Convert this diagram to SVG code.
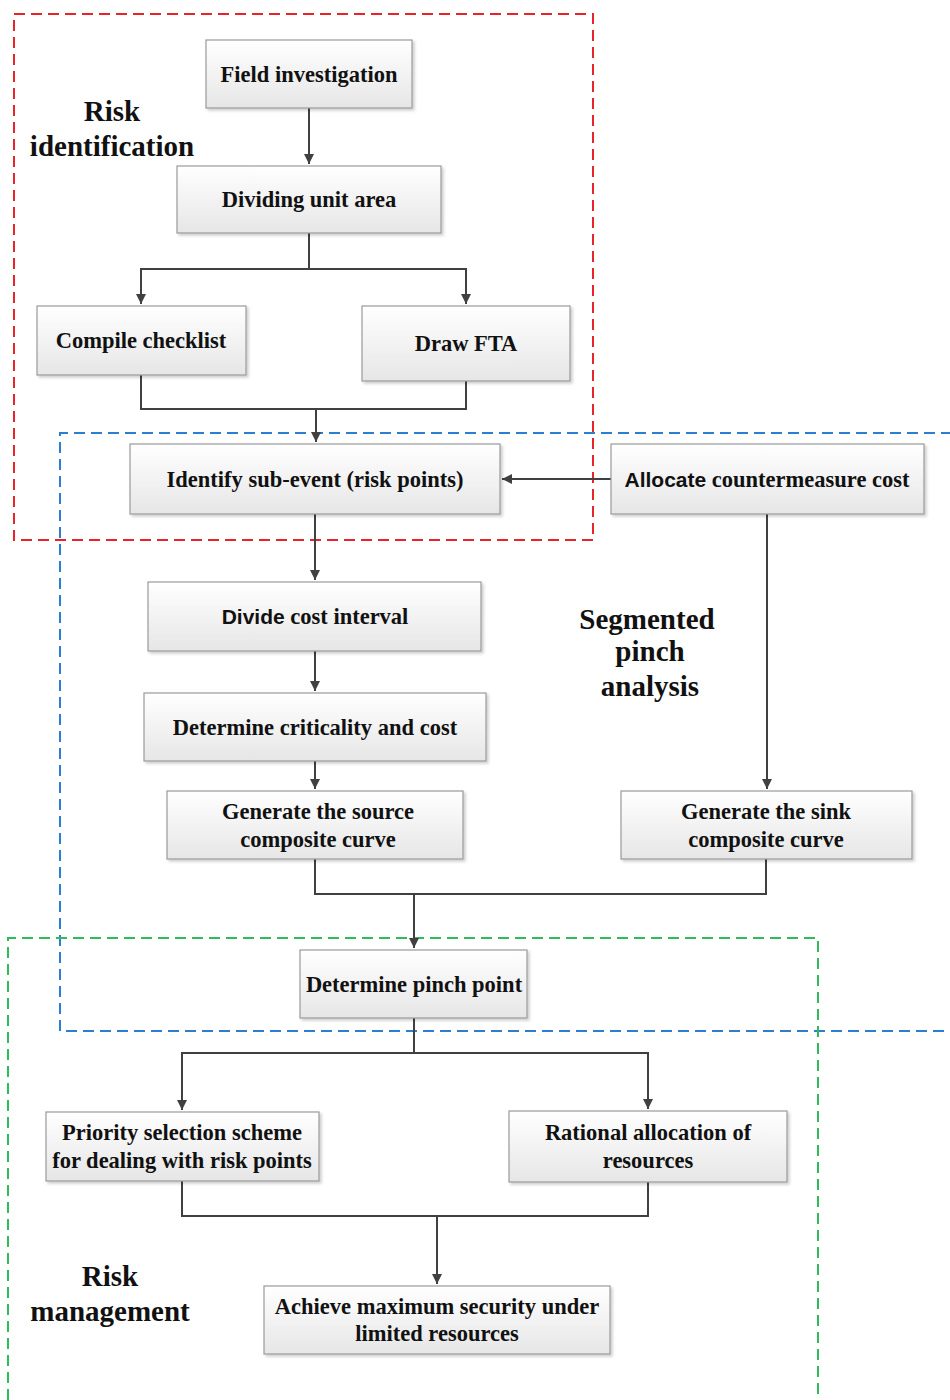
<svg xmlns="http://www.w3.org/2000/svg" width="950" height="1400" viewBox="0 0 950 1400">
<defs>
<linearGradient id="g" x1="0" y1="0" x2="0" y2="1">
<stop offset="0" stop-color="#ffffff"/>
<stop offset="1" stop-color="#e6e6e6"/>
</linearGradient>
<filter id="sh" x="-5%" y="-5%" width="115%" height="125%">
<feDropShadow dx="2" dy="2" stdDeviation="1.5" flood-color="#000" flood-opacity="0.2"/>
</filter>
<marker id="ar" viewBox="0 0 10 10" refX="10" refY="5" markerWidth="10" markerHeight="10" markerUnits="userSpaceOnUse" orient="auto">
<path d="M0,0 L10,5 L0,10 z" fill="#404040"/>
</marker>
</defs>
<style>
.box{fill:url(#g);stroke:#9a9a9a;stroke-width:1.2;filter:url(#sh)}
.t{font-family:"Liberation Serif","Times New Roman",serif;font-weight:bold;font-size:22.5px;fill:#111;text-anchor:middle}
.s{font-family:"Liberation Sans",Arial,sans-serif;font-size:21px}
.lab{font-family:"Liberation Serif","Times New Roman",serif;font-weight:bold;font-size:29px;fill:#111;text-anchor:middle}
.c{fill:none;stroke:#404040;stroke-width:2}
.a{marker-end:url(#ar)}
.reg{fill:none;stroke-width:2;stroke-dasharray:11 6}
</style>
<rect width="950" height="1400" fill="#fff"/>
<g id="regions">
<rect class="reg" x="14" y="14" width="579" height="526" stroke="#e8242a"/>
<path class="reg" d="M952,433 H60 V1031 H952" stroke="#2a7fd0"/>
<path class="reg" d="M8,1400 V938 H818 V1400" stroke="#2ebd5a"/>
</g>
<g id="labels">
<text class="lab" x="112" y="121">Risk</text>
<text class="lab" x="112" y="156">identification</text>
<text class="lab" x="647" y="629">Segmented</text>
<text class="lab" x="650" y="661">pinch</text>
<text class="lab" x="650" y="696">analysis</text>
<text class="lab" x="110" y="1286">Risk</text>
<text class="lab" x="110" y="1321">management</text>
</g>
<g id="connectors">
<path class="c a" d="M309,108 V164"/>
<path class="c" d="M309,233 V269 M141,269 H466"/>
<path class="c a" d="M141,268 V304"/>
<path class="c a" d="M466,268 V304"/>
<path class="c" d="M141,375 V409 H466 V381"/>
<path class="c a" d="M316,409 V442"/>
<path class="c a" d="M611,479 H502"/>
<path class="c a" d="M315,514 V580"/>
<path class="c a" d="M315,651 V691"/>
<path class="c a" d="M315,761 V789"/>
<path class="c a" d="M767,514 V789"/>
<path class="c" d="M315,859 V894 H766 V859"/>
<path class="c a" d="M414,894 V948"/>
<path class="c" d="M414,1018 V1053 M182,1053 H648"/>
<path class="c a" d="M182,1052 V1110"/>
<path class="c a" d="M648,1052 V1109"/>
<path class="c" d="M182,1181 V1216 H648 V1182"/>
<path class="c a" d="M437,1216 V1284"/>
</g>
<g id="n1"><rect class="box" x="206" y="40" width="206" height="68"/><text class="t" x="309" y="82">Field investigation</text></g>
<g id="n2"><rect class="box" x="177" y="166" width="264" height="67"/><text class="t" x="309" y="207">Dividing unit area</text></g>
<g id="n3"><rect class="box" x="37" y="306" width="209" height="69"/><text class="t" x="141" y="348">Compile checklist</text></g>
<g id="n4"><rect class="box" x="362" y="306" width="208" height="75"/><text class="t" x="466" y="351">Draw FTA</text></g>
<g id="n5"><rect class="box" x="130" y="444" width="370" height="70"/><text class="t" x="315" y="487">Identify sub-event (risk points)</text></g>
<g id="n6"><rect class="box" x="611" y="444" width="313" height="70"/><text class="t" x="767" y="487"><tspan class="s">Allocate</tspan> countermeasure cost</text></g>
<g id="n7"><rect class="box" x="148" y="582" width="333" height="69"/><text class="t" x="315" y="624"><tspan class="s">Divide</tspan> cost interval</text></g>
<g id="n8"><rect class="box" x="144" y="693" width="342" height="68"/><text class="t" x="315" y="735">Determine criticality and cost</text></g>
<g id="n9"><rect class="box" x="167" y="791" width="296" height="68"/><text class="t" x="318" y="819">Generate the source</text><text class="t" x="318" y="847">composite curve</text></g>
<g id="n10"><rect class="box" x="621" y="791" width="291" height="68"/><text class="t" x="766" y="819">Generate the sink</text><text class="t" x="766" y="847">composite curve</text></g>
<g id="n11"><rect class="box" x="300" y="950" width="227" height="68"/><text class="t" x="414" y="992">Determine pinch point</text></g>
<g id="n12"><rect class="box" x="46" y="1112" width="273" height="69"/><text class="t" x="182" y="1140">Priority selection scheme</text><text class="t" x="182" y="1168">for dealing with risk points</text></g>
<g id="n13"><rect class="box" x="509" y="1111" width="278" height="71"/><text class="t" x="648" y="1140">Rational allocation of</text><text class="t" x="648" y="1168">resources</text></g>
<g id="n14"><rect class="box" x="264" y="1286" width="346" height="68"/><text class="t" x="437" y="1314">Achieve maximum security under</text><text class="t" x="437" y="1341">limited resources</text></g>
</svg>
